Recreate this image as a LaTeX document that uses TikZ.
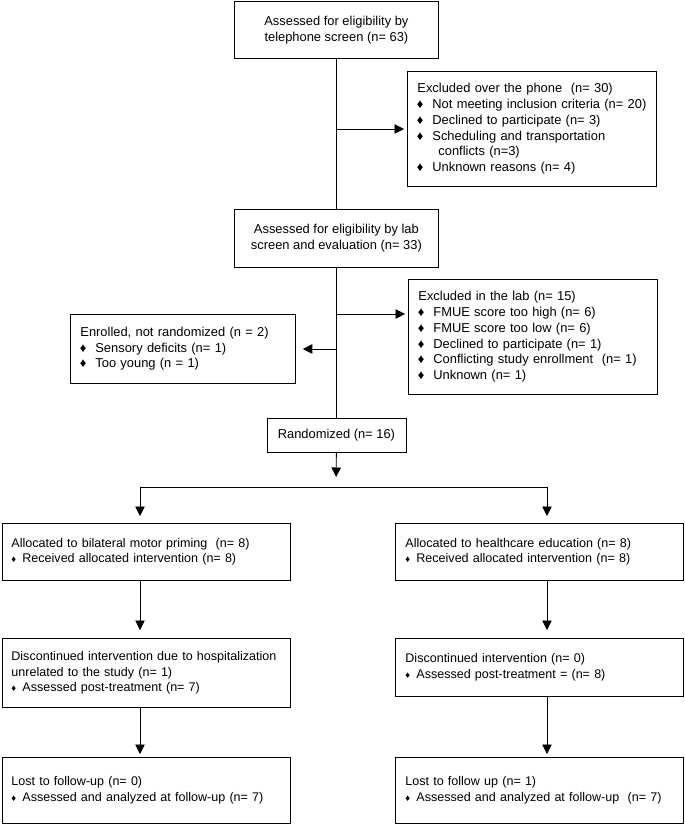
\documentclass[tikz,border=0pt]{standalone}
\usepackage{fontspec}
\setmainfont{Liberation Sans}
\usetikzlibrary{arrows.meta}
\newcommand{\boxfont}{\fontsize{12.9pt}{15.7pt}\selectfont}
\newcommand{\lowfont}{\fontsize{12.55pt}{15.5pt}\selectfont}
\newcommand{\dmd}{\makebox[17pt][l]{\hspace{1.5pt}♦}}
\newcommand{\sdmd}{\makebox[11pt][l]{\scalebox{0.75}{♦}}}

\begin{document}
\begin{tikzpicture}[x=1pt, y=-1pt,
    box/.style={draw, line width=0.8pt, anchor=north west, inner xsep=8pt, inner ysep=0pt, font=\boxfont},
    cbox/.style={box, align=center},
    lbox/.style={box, align=left},
    lowbox/.style={lbox, font=\lowfont, text width=272pt},
    arr/.style={line width=0.8pt, -{Triangle[length=9.5pt,width=9.5pt]}},
    plain/.style={line width=0.8pt}]
    \useasboundingbox (0,0) rectangle (685,825);
    \node[cbox, minimum width=204pt, minimum height=57pt] (screen) at (234,1) {Assessed for eligibility by\\telephone screen (n= 63)};
    \node[lbox, text width=233pt, minimum height=115pt] (phone) at (407,71) {\hspace*{2pt}Excluded over the phone \ (n= 30)\\\dmd Not meeting inclusion criteria (n= 20)\\\dmd Declined to participate (n= 3)\\\dmd Scheduling and transportation\\\hspace*{23pt}conflicts (n=3)\\\dmd Unknown reasons (n= 4)};
    \node[cbox, minimum width=204pt, minimum height=58pt] (lab) at (234,209) {Assessed for eligibility by lab\\screen and evaluation (n= 33)};
    \node[lbox, text width=233pt, minimum height=115pt] (labexcl) at (408,279) {\hspace*{2pt}Excluded in the lab (n= 15)\\\dmd FMUE score too high (n= 6)\\\dmd FMUE score too low (n= 6)\\\dmd Declined to participate (n= 1)\\\dmd Conflicting study enrollment \ (n= 1)\\\dmd Unknown (n= 1)};
    \node[lbox, text width=209pt, minimum height=69pt] (enrolled) at (70,314) {\hspace*{2pt}Enrolled, not randomized (n = 2)\\\dmd Sensory deficits (n= 1)\\\dmd Too young (n = 1)};
    \node[cbox, minimum width=139pt, minimum height=34pt] (rand) at (266.5,418) {Randomized (n= 16)};
    \node[lowbox, minimum height=57pt] (allocL) at (2,523) {\hspace*{1pt}Allocated to bilateral motor priming \ (n= 8)\\\hspace*{1pt}\sdmd Received allocated intervention (n= 8)};
    \node[lowbox, minimum height=57pt] (allocR) at (395,523) {\hspace*{2pt}Allocated to healthcare education (n= 8)\\\hspace*{2pt}\sdmd Received allocated intervention (n= 8)};
    \node[lowbox, minimum height=69pt] (discL) at (2,638) {\hspace*{1pt}Discontinued intervention due to hospitalization\\\hspace*{1pt}unrelated to the study (n= 1)\\\hspace*{1pt}\sdmd Assessed post-treatment (n= 7)};
    \node[lowbox, minimum height=58pt] (discR) at (395,638) {\hspace*{2pt}Discontinued intervention (n= 0)\\\hspace*{2pt}\sdmd Assessed post-treatment = (n= 8)};
    \node[lowbox, minimum height=66pt] (lostL) at (2,757) {\hspace*{1pt}Lost to follow-up (n= 0)\\\hspace*{1pt}\sdmd Assessed and analyzed at follow-up (n= 7)};
    \node[lowbox, minimum height=66pt] (lostR) at (395,757) {\hspace*{2pt}Lost to follow up (n= 1)\\\hspace*{2pt}\sdmd Assessed and analyzed at follow-up \ (n= 7)};
    \coordinate (j1) at (336,129);
    \coordinate (j2) at (336,314);
    \coordinate (j3) at (336,349);
    \coordinate (split) at (336,487);
    \coordinate (bl) at (140,487);
    \coordinate (br) at (547,487);
    \draw[plain] (screen.south) -- (lab.north);
    \draw[arr, shorten >=3pt] (j1) -- (j1 -| phone.west);
    \draw[plain] (lab.south) -- (rand.north);
    \draw[arr, shorten >=3pt] (j2) -- (j2 -| labexcl.west);
    \draw[arr, shorten >=7pt] (j3) -- (j3 -| enrolled.east);
    \draw[arr, shorten >=10pt] (rand.south) -- (split);
    \draw[plain] (bl) -- (br);
    \draw[arr, shorten >=7pt] (bl) -- (bl |- allocL.north);
    \draw[arr, shorten >=7pt] (br) -- (br |- allocR.north);
    \draw[arr, shorten >=8pt] (bl |- allocL.south) -- (bl |- discL.north);
    \draw[arr, shorten >=8pt] (br |- allocR.south) -- (br |- discR.north);
    \draw[arr, shorten >=3pt] (bl |- discL.south) -- (bl |- lostL.north);
    \draw[arr, shorten >=3pt] (br |- discR.south) -- (br |- lostR.north);
\end{tikzpicture}
\end{document}
